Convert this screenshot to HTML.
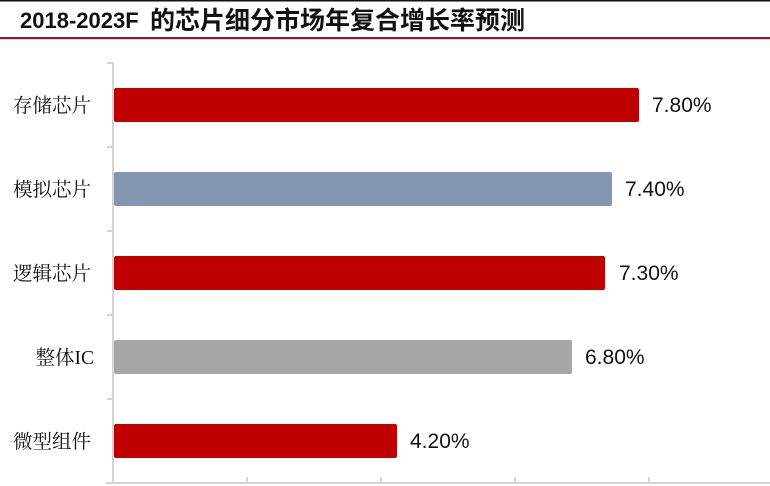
<!DOCTYPE html>
<html>
<head>
<meta charset="utf-8">
<style>
html,body{margin:0;padding:0;background:#fff;}
body{width:770px;height:486px;overflow:hidden;position:relative;}
svg{display:block;}
</style>
</head>
<body>
<svg width="770" height="486" viewBox="0 0 770 486" xmlns="http://www.w3.org/2000/svg">
  <rect x="0" y="0" width="770" height="486" fill="#fff"/>
  <!-- top black line -->
  <rect x="0" y="0" width="770" height="1.5" fill="#111"/>
  <!-- title -->
  <text x="20" y="28" font-family="'Liberation Sans','Noto Sans CJK SC',sans-serif" font-weight="bold" font-size="22" fill="#111">2018-2023F<tspan x="150" font-size="25" font-family="'Noto Sans CJK SC',sans-serif" y="29">的芯片细分市场年复合增长率预测</tspan></text>
  <!-- red rule -->
  <rect x="0" y="37" width="770" height="2.2" fill="#8e1a1f"/>

  <!-- axes -->
  <g stroke="#d4d4d4" stroke-width="2" fill="none">
    <line x1="113" y1="62" x2="113" y2="484"/>
    <line x1="106" y1="483" x2="770" y2="483"/>
    <line x1="107" y1="63" x2="113" y2="63"/>
    <line x1="107" y1="147" x2="113" y2="147"/>
    <line x1="107" y1="231" x2="113" y2="231"/>
    <line x1="107" y1="315" x2="113" y2="315"/>
    <line x1="107" y1="399" x2="113" y2="399"/>
    <line x1="247" y1="477" x2="247" y2="483"/>
    <line x1="381" y1="477" x2="381" y2="483"/>
    <line x1="515" y1="477" x2="515" y2="483"/>
    <line x1="649" y1="477" x2="649" y2="483"/>
  </g>

  <!-- bars -->
  <rect x="114" y="88" width="525" height="34" rx="2" fill="#c00000"/>
  <rect x="114" y="172" width="498" height="34" rx="2" fill="#8497b0"/>
  <rect x="114" y="256" width="491" height="34" rx="2" fill="#c00000"/>
  <rect x="114" y="340" width="458" height="34" rx="2" fill="#a6a6a6"/>
  <rect x="114" y="424" width="283" height="34" rx="2" fill="#c00000"/>

  <!-- value labels -->
  <g font-family="'Liberation Sans',sans-serif" font-size="21" fill="#111">
    <text x="652" y="112">7.80%</text>
    <text x="625" y="196">7.40%</text>
    <text x="619" y="280">7.30%</text>
    <text x="585" y="364">6.80%</text>
    <text x="410" y="448">4.20%</text>
  </g>

  <!-- category labels -->
  <g font-family="'Liberation Serif','Noto Serif CJK SC',serif" font-size="19.5" fill="#111" text-anchor="end">
    <text x="91" y="112">存储芯片</text>
    <text x="91" y="196">模拟芯片</text>
    <text x="91" y="280">逻辑芯片</text>
    <text x="94" y="364">整体IC</text>
    <text x="91" y="448">微型组件</text>
  </g>
</svg>
</body>
</html>
